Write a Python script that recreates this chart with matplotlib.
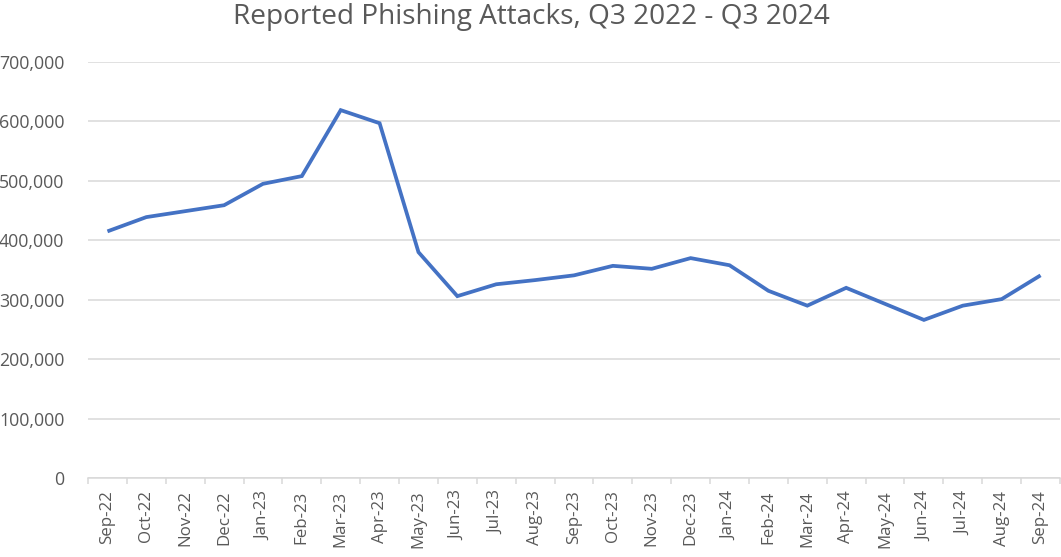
import matplotlib
matplotlib.use("Agg")
import matplotlib.pyplot as plt
from matplotlib.ticker import FuncFormatter, FixedLocator

months = ["Sep-22", "Oct-22", "Nov-22", "Dec-22", "Jan-23", "Feb-23", "Mar-23", "Apr-23",
          "May-23", "Jun-23", "Jul-23", "Aug-23", "Sep-23", "Oct-23", "Nov-23", "Dec-23",
          "Jan-24", "Feb-24", "Mar-24", "Apr-24", "May-24", "Jun-24", "Jul-24", "Aug-24", "Sep-24"]
attacks = [415000, 439000, 449000, 459000, 495000, 508000, 619000, 597000,
           380000, 306000, 326000, 333000, 341000, 357000, 352000, 370000,
           358000, 315000, 290000, 320000, 293000, 266000, 290000, 301000, 341000]
title = "Reported Phishing Attacks, Q3 2022 - Q3 2024"

plt.rcParams['font.family'] = ['Open Sans', 'DejaVu Sans']
txt = '#595959'
grid = '#D9D9D9'

fig = plt.figure(figsize=(10.61, 5.57), dpi=100)
ax = fig.add_axes([88/1061, (557-478)/557, (1060-88)/1061, (478-62)/557])

x = list(range(len(months)))
ax.plot(x, attacks, color='#4472C4', lw=2.7, solid_joinstyle='miter', solid_capstyle='butt')

ax.set_xlim(-0.5, len(months) - 0.5)
ax.set_ylim(0, 700000)
ax.set_yticks(range(0, 700001, 100000))
ax.yaxis.set_major_formatter(FuncFormatter(lambda v, p: f"{int(v):,}"))
ax.grid(axis='y', color=grid, lw=1.1)
ax.set_axisbelow(True)

ax.set_xticks(x)
ax.set_xticklabels(months, rotation=90, color=txt, fontsize=12.2)
ax.xaxis.set_minor_locator(FixedLocator([i - 0.5 for i in range(len(months) + 1)]))
ax.tick_params(axis='x', which='major', length=0, pad=9)
ax.tick_params(axis='x', which='minor', length=4.5, color=grid, width=1.1)
ax.tick_params(axis='y', length=0, labelcolor=txt, labelsize=12.8, pad=17)

for s in ['top', 'right', 'left']:
    ax.spines[s].set_visible(False)
ax.spines['bottom'].set_color(grid)
ax.spines['bottom'].set_linewidth(1.1)

fig.text(531/1061, 1 - 17/557, title, ha='center', va='center', fontsize=20.2, color=txt)

fig.savefig("out.png", dpi=100)
